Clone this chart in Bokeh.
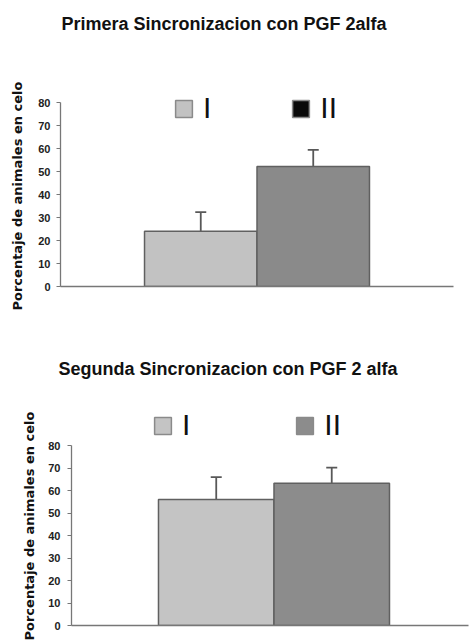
from bokeh.plotting import figure
from bokeh.layouts import column, row
from bokeh.models import (Range1d, LinearAxis, FixedTicker, Whisker, ColumnDataSource,
                          TeeHead, Legend, LegendItem, Title)
from bokeh.embed import file_html
from bokeh.resources import INLINE

groups = ["I", "II"]
y_ticks = [0, 10, 20, 30, 40, 50, 60, 70, 80]
y_label = "Porcentaje de animales en celo"

title1 = "Primera Sincronizacion con PGF 2alfa"
values1 = [24, 52.2]
errors1 = [8.3, 7.2]
bar_colors1 = ["#c2c2c2", "#8a8a8a"]
legend_colors1 = ["#c2c2c2", "#0a0a0a"]

title2 = "Segunda Sincronizacion con PGF 2 alfa"
values2 = [56, 63.2]
errors2 = [10, 7]
bar_colors2 = ["#c4c4c4", "#8c8c8c"]
legend_colors2 = ["#c4c4c4", "#8c8c8c"]

FONT = "'Liberation Sans', sans-serif"
FONT_LBL = "'DejaVu Sans', sans-serif"
NAN = float("nan")


def make_panel(title, values, errors, bar_colors, legend_colors, height, y_end,
               x_start, x_end, b_left, b_right, b_top, b_bottom, t_off,
               tick_standoff, lab_standoff, lab_offset, leg_loc, leg_spacing):
    p = figure(width=470, height=height, output_backend="svg", toolbar_location=None,
               x_range=Range1d(x_start, x_end), y_range=Range1d(0, y_end),
               x_axis_type=None, y_axis_type=None, title_location=None,
               min_border_left=b_left, min_border_right=b_right,
               min_border_top=b_top, min_border_bottom=b_bottom)
    p.outline_line_color = None
    p.grid.visible = False
    p.background_fill_color = "white"

    p.add_layout(Title(text=title, align="left", offset=t_off, standoff=0,
                       text_font=FONT, text_font_size="18px", text_font_style="bold",
                       text_color="#111111"), "above")

    xs = [i + 1 for i in range(len(groups))]
    src = ColumnDataSource(dict(x=xs, top=values, color=bar_colors,
                                upper=[v + e for v, e in zip(values, errors)]))
    p.vbar(x="x", top="top", width=1.0, fill_color="color", line_color="#606060",
           line_width=1.5, source=src)
    w = Whisker(base="x", lower="top", upper="upper", source=src,
                line_color="#585858", line_width=1.8,
                upper_head=TeeHead(size=11, line_color="#585858", line_width=1.8),
                lower_head=None)
    p.add_layout(w)

    yax = LinearAxis(ticker=FixedTicker(ticks=y_ticks), bounds=(0, y_ticks[-1]))
    yax.axis_line_color = "#777777"
    yax.axis_line_width = 1.3
    yax.major_tick_line_color = "#777777"
    yax.major_tick_out = 4
    yax.major_tick_in = 0
    yax.minor_tick_line_color = None
    yax.major_label_text_font = FONT
    yax.major_label_text_font_size = "11px"
    yax.major_label_text_font_style = "bold"
    yax.major_label_text_color = "#222222"
    yax.major_label_standoff = tick_standoff
    p.add_layout(yax, "left")

    # y axis title, placed outside the axis and shifted along it like the original
    p.add_layout(Title(text=y_label, align="left", vertical_align="top",
                       offset=lab_offset, standoff=lab_standoff,
                       text_font=FONT_LBL, text_font_size="13px", text_font_style="bold",
                       text_color="#111111"), "left")

    xax = LinearAxis(ticker=FixedTicker(ticks=[]))
    xax.axis_line_color = "#777777"
    xax.axis_line_width = 1.3
    xax.major_tick_line_color = None
    xax.minor_tick_line_color = None
    xax.major_label_text_font_size = "0px"
    xax.major_label_standoff = 0
    p.add_layout(xax, "below")

    items = []
    for g, c in zip(groups, legend_colors):
        dummy = ColumnDataSource(dict(x=[NAN], top=[NAN]))
        r = p.vbar(x="x", top="top", width=1.0, fill_color=c, line_color="#8a8a8a",
                   line_width=1.5, source=dummy)
        items.append(LegendItem(label=g, renderers=[r]))
    leg = Legend(items=items, orientation="horizontal", location=leg_loc,
                 glyph_width=21, glyph_height=21, label_text_font=FONT,
                 label_text_font_size="30px", label_text_color="#111111",
                 label_standoff=9, label_width=8, label_height=32, spacing=leg_spacing,
                 padding=0, margin=0, border_line_color=None, background_fill_alpha=0)
    p.add_layout(leg)
    return p


p1 = make_panel(title1, values1, errors1, bar_colors1, legend_colors1,
                height=330, y_end=110.0, x_start=-0.247, x_end=3.247,
                b_left=60, b_right=17, b_top=33, b_bottom=44, t_off=1,
                tick_standoff=6, lab_standoff=18, lab_offset=-24,
                leg_loc=(113, 161), leg_spacing=79)
p2 = make_panel(title2, values2, errors2, bar_colors2, legend_colors2,
                height=310, y_end=109.8, x_start=-0.253, x_end=3.184,
                b_left=71, b_right=2, b_top=48, b_bottom=15, t_off=-13,
                tick_standoff=7, lab_standoff=14, lab_offset=-15,
                leg_loc=(81, 183), leg_spacing=104)

layout = column(row(p1), row(p2), spacing=0)
open("out.html", "w").write(file_html(layout, INLINE))
